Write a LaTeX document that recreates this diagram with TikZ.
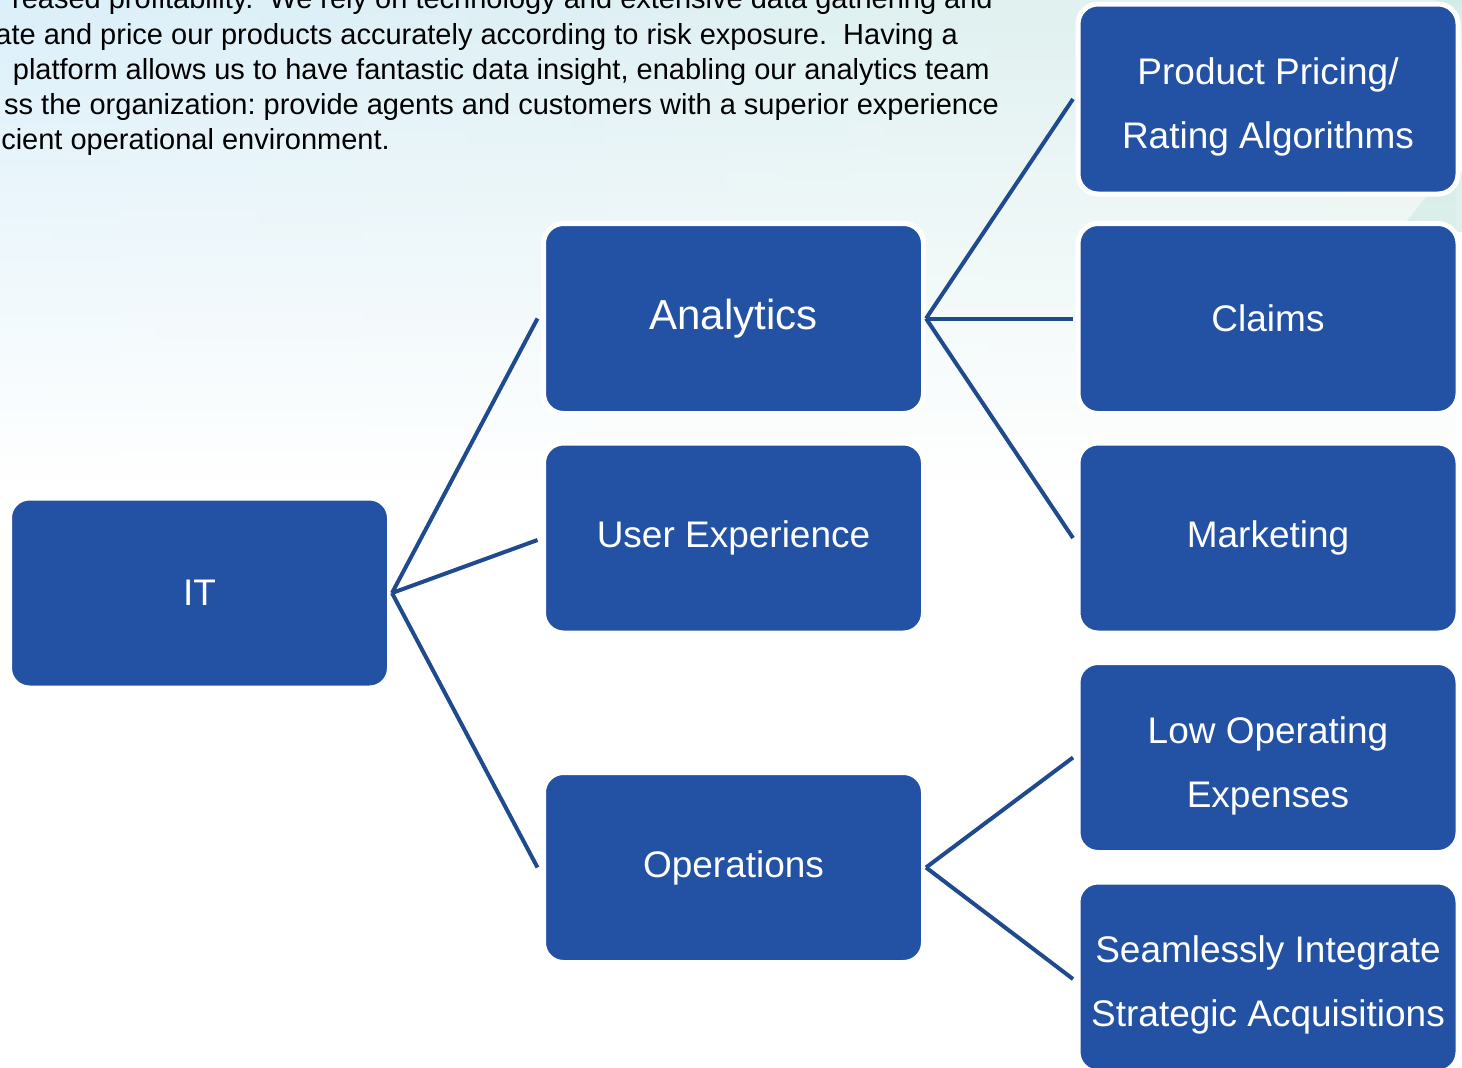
\documentclass[tikz,border=0pt]{standalone}
\usepackage{fontspec}
\setmainfont{Liberation Sans}
\usetikzlibrary{fadings}
\frenchspacing

\definecolor{boxblue}{HTML}{2352A4}
\definecolor{linkblue}{HTML}{1F4A8E}
\definecolor{bgleft}{HTML}{DCF0FA}
\definecolor{bgright}{HTML}{E2F1EC}
\definecolor{tealtint}{HTML}{D2EBE6}

\tikzset{
  card/.style={fill=boxblue, draw=white, line width=5pt, rounded corners=20pt,
    minimum width=380pt, minimum height=190pt, inner sep=0pt,
    text=white, align=center, font=\fontsize{37}{64}\selectfont},
  bigcard/.style={card, font=\fontsize{42}{64}\selectfont},
  link/.style={draw=linkblue, line width=4pt},
  para/.style={anchor=base east, inner sep=0pt, text=black,
    font=\fontsize{29}{35}\selectfont}
}
\newcommand{\topstrut}{\rule{0pt}{43pt}}

\begin{document}
\begin{tikzpicture}[x=1pt, y=-1pt]
  \useasboundingbox (0,0) rectangle (1462,1068);
  \clip (0,0) rectangle (1462,1068);

  % soft background wash, fading out towards the lower half
  \fill[white] (0,0) rectangle (1462,1068);
  \shade[left color=bgleft, right color=bgright, path fading=south]
    (0,0) rectangle (1462,480);
  \fill[tealtint, path fading=south] (1436,0) -- (1462,0) -- (1462,90) -- cycle;
  \fill[tealtint, opacity=0.7] (1398,232) -- (1446,172) -- (1462,172) -- (1462,232) -- cycle;

  % introductory paragraph
  \node[para] (p1) at (993,9)   {reased profitability.\ \ We rely on technology and extensive data gathering and};
  \node[para] (p2) at (958,44)  {ate and price our products accurately according to risk exposure.\ \ Having a};
  \node[para] (p3) at (990,79)  {platform allows us to have fantastic data insight, enabling our analytics team};
  \node[para] (p4) at (999,114) {ss the organization: provide agents and customers with a superior experience};
  \node[para] (p5) at (390,149) {cient operational environment.};

  % boxes
  \node[card]    (it)   at (199.5,593)  {IT};
  \node[bigcard] (ana)  at (733.5,318.5) {Analytics};
  \node[card]    (ux)   at (733.5,538)  {User Experience};
  \node[card]    (ops)  at (733.5,867.5) {Operations};
  \node[card]    (ppr)  at (1268,99)    {\topstrut Product Pricing/\\Rating Algorithms};
  \node[card]    (clm)  at (1268,318.5) {Claims};
  \node[card]    (mkt)  at (1268,538)   {Marketing};
  \node[card]    (lop)  at (1268,757.5) {\topstrut Low Operating\\Expenses};
  \node[card]    (sia)  at (1268,977)   {\topstrut Seamlessly Integrate\\Strategic Acquisitions};

  % connectors
  \draw[link] (it.east) -- ([xshift=-3.5pt]ana.west);
  \draw[link] (it.east) -- ([xshift=-3.5pt,yshift=-2pt]ux.west);
  \draw[link] (it.east) -- ([xshift=-3.5pt]ops.west);
  \draw[link] (ana.east) -- ([xshift=-2.5pt]ppr.west);
  \draw[link] (ana.east) -- ([xshift=-2.5pt]clm.west);
  \draw[link] (ana.east) -- ([xshift=-2.5pt]mkt.west);
  \draw[link] (ops.east) -- ([xshift=-2.5pt]lop.west);
  \draw[link] (ops.east) -- ([xshift=-2.5pt,yshift=-2pt]sia.west);
\end{tikzpicture}
\end{document}
